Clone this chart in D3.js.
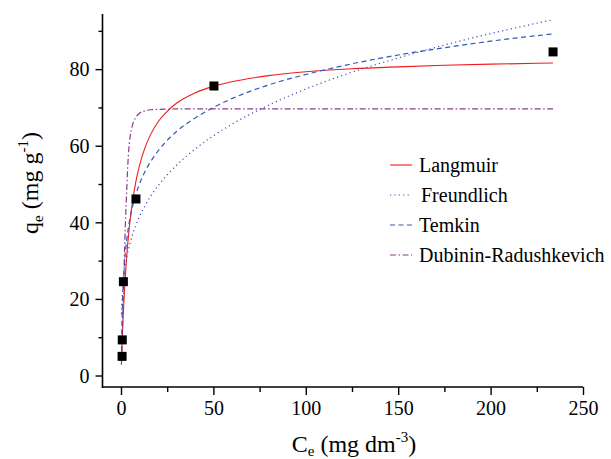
<!DOCTYPE html>
<html>
<head>
<meta charset="utf-8">
<script src="https://cdn.jsdelivr.net/npm/d3@7"></script>
<style>
  body { margin: 0; background: #fff; }
  svg text { font-family: "Liberation Serif", "Times New Roman", serif; fill: #000; }
</style>
</head>
<body>
<div id="main"></div>
<script>
//size of the picture
const width = 611;
const height = 459;

//experimental points
const expCe = [0.6, 0.7, 1.3, 8.1, 50.3, 233.8];
const expQe = [5.0, 9.3, 24.5, 46.1, 75.6, 84.5];

//fitted curves
const fitCe = [0.25, 0.5, 1, 1.5, 2, 3, 4, 5, 6, 8, 10, 13, 16, 20, 25, 30, 40, 50, 60, 80, 100, 125, 150, 175, 200, 233.8];
const langmuirQe = [3.8, 7.3, 13.4, 18.6, 23.1, 30.5, 36.2, 40.8, 44.6, 50.5, 54.8, 59.5, 62.9, 66.2, 69.0, 71.1, 73.8, 75.5, 76.7, 78.3, 79.3, 80.1, 80.6, 81.0, 81.3, 81.6];
const freundlichQe = [16.1, 19.3, 23.0, 25.5, 27.5, 30.5, 32.8, 34.7, 36.4, 39.2, 41.5, 44.3, 46.8, 49.5, 52.4, 54.9, 59.1, 62.6, 65.6, 70.6, 74.8, 79.2, 82.9, 86.3, 89.3, 92.9];
const temkinQe = [4.1, 12.7, 21.3, 26.4, 30.0, 35.0, 38.6, 41.4, 43.6, 47.2, 50.0, 53.3, 55.8, 58.6, 61.4, 63.7, 67.2, 70.0, 72.3, 75.9, 78.6, 81.4, 83.7, 85.6, 87.3, 89.2];
const drCe = [0.25, 0.7, 1.0, 1.4, 1.8, 2.3, 3.0, 3.5, 4.0, 5, 6, 7, 8, 10, 13, 16, 20, 30, 60, 120, 233.8];
const drQe = [2.8, 10, 16, 22, 30, 38.5, 47, 53, 57.5, 62.5, 65, 66.5, 67.4, 68.5, 69.1, 69.4, 69.5, 69.6, 69.6, 69.6, 69.6];

const legendNames = ["Langmuir", "Freundlich", "Temkin", "Dubinin-Radushkevich"];
const xTicks = [0, 50, 100, 150, 200, 250];
const yTicks = [0, 20, 40, 60, 80];

const fontFam = '"Liberation Serif", "Times New Roman", serif';

const svg = d3.select('#main')
              .append('svg')
              .attr('width', width)
              .attr('height', height);

//scales
const xScale = d3.scaleLinear().domain([-10, 250]).range([102.5, 583]);
const yScale = d3.scaleLinear().domain([-3, 94.4]).range([387, 14]);

//axes
const xAxis = d3.axisBottom(xScale).tickValues(xTicks).tickSize(8).tickPadding(6).tickFormat(d3.format("d"));
const xMinor = d3.axisBottom(xScale).tickValues([25, 75, 125, 175, 225]).tickSize(5).tickFormat("");
const yAxis = d3.axisLeft(yScale).tickValues(yTicks).tickSize(7).tickPadding(6).tickFormat(d3.format("d"));
const yMinor = d3.axisLeft(yScale).tickValues([10, 30, 50, 70, 90]).tickSize(4).tickFormat("");

function styleAxis(g) {
  g.attr('font-family', fontFam).attr('font-size', 20);
  g.select('.domain').remove();
  g.selectAll('line').attr('stroke', '#000').attr('stroke-width', 1.4);
  g.selectAll('text').style('font-size', '20px').style('font-family', fontFam).attr('fill', '#000');
}

svg.append('g').attr('transform', 'translate(0,' + yScale(-3) + ')').call(xAxis).call(styleAxis);
svg.append('g').attr('transform', 'translate(0,' + yScale(-3) + ')').call(xMinor).call(styleAxis);
svg.append('g').attr('transform', 'translate(' + xScale(-10) + ',0)').call(yAxis).call(styleAxis)
   .selectAll('text').attr('dy', '0.34em');
svg.append('g').attr('transform', 'translate(' + xScale(-10) + ',0)').call(yMinor).call(styleAxis);

//axis lines
svg.append('line')
   .attr('x1', xScale(-10)).attr('x2', xScale(-10))
   .attr('y1', yScale(94.4)).attr('y2', yScale(-3) + 0.7)
   .attr('stroke', '#000').attr('stroke-width', 1.6);
svg.append('line')
   .attr('x1', xScale(-10) - 0.7).attr('x2', xScale(250))
   .attr('y1', yScale(-3)).attr('y2', yScale(-3))
   .attr('stroke', '#000').attr('stroke-width', 1.6);

//curves
const curveStyles = [
  { color: '#f21c1c', dash: null, width: 1.1 },
  { color: '#4a4ab8', dash: '1.2,3.2', width: 1.2 },
  { color: '#3558b8', dash: '5,3.5', width: 1.2 },
  { color: '#8a3a8e', dash: '6,2.5,1.5,2.5', width: 1.2 }
];
const curveData = [
  fitCe.map((c, i) => [c, langmuirQe[i]]),
  fitCe.map((c, i) => [c, freundlichQe[i]]),
  fitCe.map((c, i) => [c, temkinQe[i]]),
  drCe.map((c, i) => [c, drQe[i]])
];

const line = d3.line()
  .x(d => xScale(d[0]))
  .y(d => yScale(d[1]))
  .curve(d3.curveMonotoneX);

curveData.forEach((pts, i) => {
  svg.append('path')
     .datum(pts)
     .attr('d', line)
     .attr('fill', 'none')
     .attr('stroke', curveStyles[i].color)
     .attr('stroke-width', curveStyles[i].width)
     .attr('stroke-dasharray', curveStyles[i].dash);
});

//experimental squares
svg.selectAll('.dot').data(expCe).enter()
   .append('rect').attr('class', 'dot')
   .attr('x', (d) => xScale(d) - 4.5)
   .attr('y', (d, i) => yScale(expQe[i]) - 4.5)
   .attr('width', 9).attr('height', 9)
   .attr('fill', '#000');

//legend
const legend = svg.append('g').selectAll('g').data(legendNames).enter()
  .append('g')
  .attr('transform', (d, i) => 'translate(390,' + (165 + i * 30) + ')');

legend.append('line')
  .attr('x1', 0).attr('x2', 22).attr('y1', 0).attr('y2', 0)
  .attr('stroke', (d, i) => curveStyles[i].color)
  .attr('stroke-width', (d, i) => curveStyles[i].width)
  .attr('stroke-dasharray', (d, i) => curveStyles[i].dash);

legend.append('text')
  .attr('x', (d, i) => i == 1 ? 31 : 29)
  .attr('y', 6.5)
  .style('font-size', '20px')
  .text(d => d);

//y title
const yTitle = svg.append('text')
  .attr('transform', 'translate(38,183) rotate(-90)')
  .attr('text-anchor', 'middle')
  .style('font-size', '24px');
yTitle.append('tspan').text('q');
yTitle.append('tspan').attr('dy', 5).style('font-size', '15px').text('e');
yTitle.append('tspan').attr('dy', -5).text(' (mg g');
yTitle.append('tspan').attr('dy', -10).style('font-size', '15px').text('-1');
yTitle.append('tspan').attr('dy', 10).text(')');

//x title
const xTitle = svg.append('text')
  .attr('x', 354).attr('y', 452)
  .attr('text-anchor', 'middle')
  .style('font-size', '24px');
xTitle.append('tspan').text('C');
xTitle.append('tspan').attr('dy', 4).style('font-size', '15px').text('e');
xTitle.append('tspan').attr('dy', -4).text(' (mg dm');
xTitle.append('tspan').attr('dy', -10).style('font-size', '15px').text('-3');
xTitle.append('tspan').attr('dy', 10).text(')');
</script>
</body>
</html>
